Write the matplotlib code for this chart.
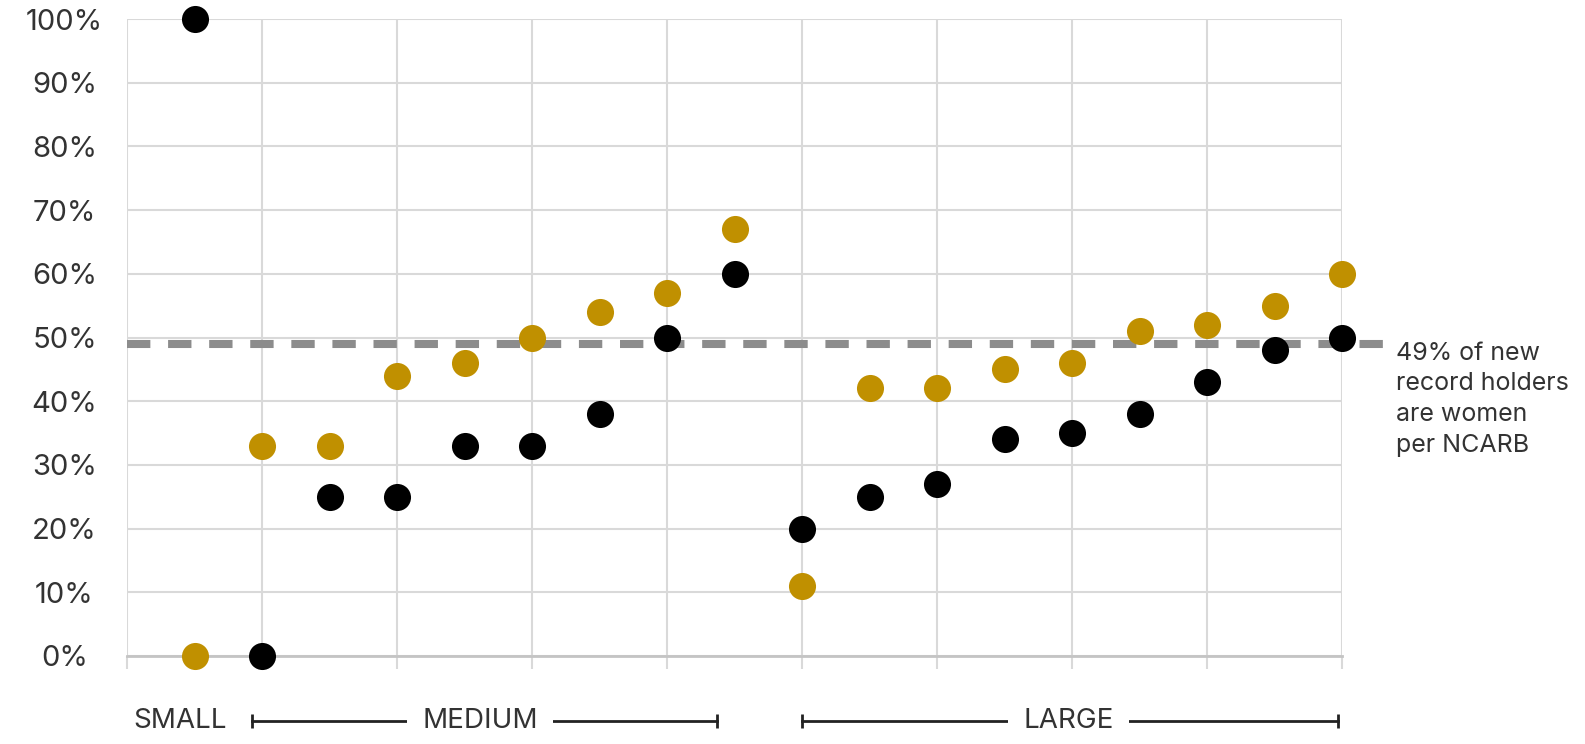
import matplotlib.pyplot as plt
import matplotlib.transforms as mtransforms
import numpy as np

# firm slots, two per column of the grid
slots = np.arange(1, 19)
black_pct = [100, 0, 25, 25, 33, 33, 38, 50, 60, 20, 25, 27, 34, 35, 38, 43, 48, 50]
gold_pct = [0, 33, 33, 44, 46, 50, 54, 57, 67, 11, 42, 42, 45, 46, 51, 52, 55, 60]
ncarb_pct = 49
ytick_vals = list(range(0, 101, 10))
ytick_text = [str(v) + "%" for v in ytick_vals]

plt.rcParams['font.family'] = ['Inter', 'DejaVu Sans']
txt = '#333333'
grid = '#d9d9d9'

fig = plt.figure(figsize=(15.85, 7.44), dpi=100)
ax = fig.add_axes([127/1585, 88/744, 1215/1585, 637/744])
ax.set_xlim(0, 18)
ax.set_ylim(0, 100)

ax.set_xticks(np.arange(0, 19, 2))
ax.set_xticklabels([])
ax.set_yticks(ytick_vals)
ax.set_yticklabels(ytick_text, fontsize=21, color=txt, ha='center')
ax.tick_params(axis='y', length=0, pad=45)
ax.tick_params(axis='x', length=9, width=1.5, color=grid)
ax.grid(True, color=grid, lw=1.5)
ax.set_axisbelow(True)
for s in ['top', 'right', 'left']:
    ax.spines[s].set_visible(False)
ax.spines['bottom'].set_color('#c4c4c4')
ax.spines['bottom'].set_linewidth(2)

# reference line
ax.plot([0, 18.64], [ncarb_pct, ncarb_pct], color='#8c8c8c', lw=5.8,
        dashes=(2.9, 2.2), clip_on=False, zorder=2)
ax.text(18.8, ncarb_pct, "49% of new\nrecord holders\nare women\nper NCARB",
        fontsize=18, color=txt, va='top', ha='left', linespacing=1.42,
        transform=ax.transData + mtransforms.ScaledTranslation(0, 2/100, fig.dpi_scale_trans))

ax.scatter(slots, black_pct, s=380, color='black', zorder=3, clip_on=False, lw=0)
ax.scatter(slots, gold_pct, s=380, color='#c09000', zorder=3, clip_on=False, lw=0)

# size-class brackets under the axis
tr = mtransforms.blended_transform_factory(ax.transData, fig.transFigure)
yb = 23/744
ax.text(0.09, yb, "SMALL", transform=tr, fontsize=20, color=txt, va='center', ha='left')
for x0, x1, xm, name in [(1.85, 8.74, 5.23, "MEDIUM"), (10.0, 17.94, 13.95, "LARGE")]:
    ax.plot([x0, x1], [yb, yb], color='#222222', lw=2, transform=tr, clip_on=False)
    ax.plot([x0, x1], [yb, yb], ls='none', marker='|', ms=10, mew=2,
            color='#222222', transform=tr, clip_on=False)
    ax.text(xm, yb, name, transform=tr, fontsize=20, color=txt, va='center', ha='center',
            bbox=dict(facecolor='white', edgecolor='none', pad=11))

fig.savefig("out.png", dpi=100)
